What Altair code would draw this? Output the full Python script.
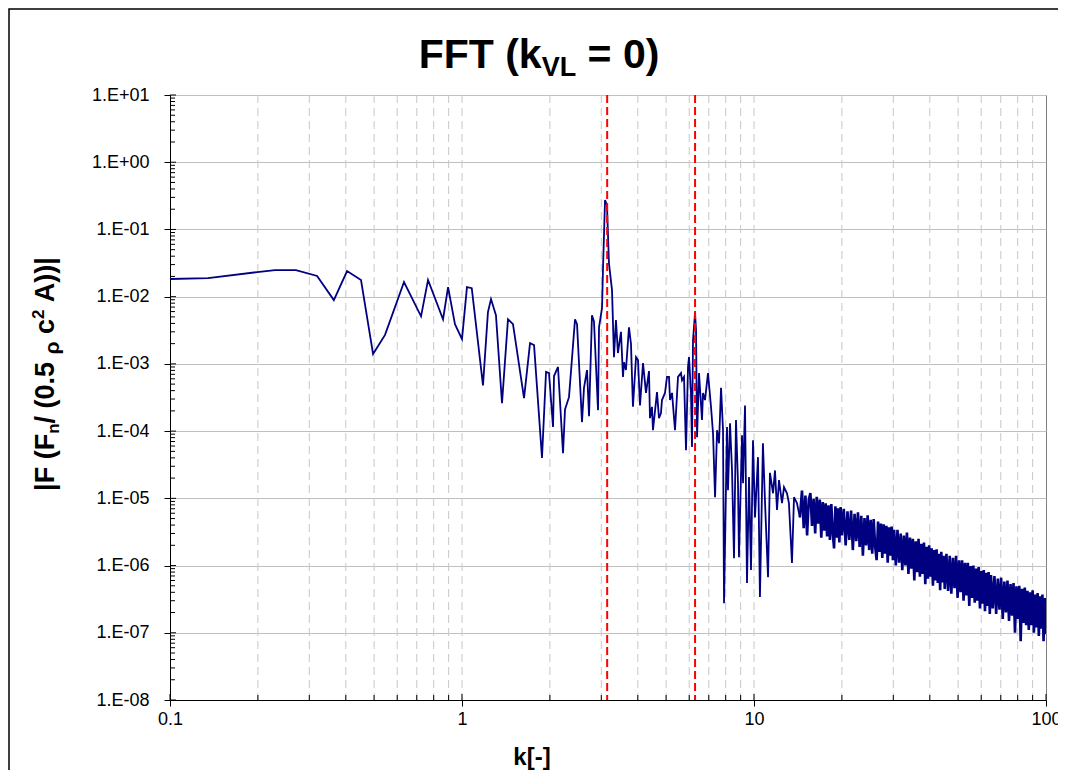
import altair as alt
import pandas as pd

# ---------------- data ----------------
k_a = [0.100, 0.135, 0.199, 0.229, 0.270, 0.319, 0.364, 0.404, 0.451, 0.496, 0.545,
       0.633, 0.724, 0.765, 0.861, 0.896, 0.946, 1.000, 1.040, 1.080]
amp_a = [0.0183, 0.0189, 0.0232, 0.0249, 0.0249, 0.0203, 0.0089, 0.0240, 0.0177, 0.0014,
         0.0027, 0.0165, 0.0051, 0.0177, 0.0046, 0.0139, 0.0039, 0.00234, 0.0139, 0.0134]

k_b = [1.180, 1.227, 1.257, 1.307, 1.371, 1.437, 1.495, 1.631, 1.710, 1.765, 1.879, 1.940,
       1.986, 2.050, 2.066, 2.132, 2.218, 2.253, 2.325, 2.438, 2.477, 2.576, 2.617, 2.680,
       2.723, 2.787, 2.831, 2.923, 2.946, 3.017]
amp_b = [4.8e-4, 5.9e-3, 9.2e-3, 5.3e-3, 2.6e-4, 4.6e-3, 3.9e-3, 3.1e-4, 2.04e-3, 1.9e-3,
         4.0e-5, 7.6e-4, 7.3e-4, 1.15e-4, 6.6e-4, 9.0e-4, 4.7e-5, 2.1e-4, 3.2e-4, 4.6e-3,
         3.9e-3, 1.36e-4, 4.4e-4, 8.1e-4, 1.67e-4, 5.3e-3, 4.3e-3, 2.05e-4, 3.5e-3, 6.8e-3]

k_c = [3.041, 3.089, 3.137, 3.186, 3.264, 3.315, 3.367, 3.420, 3.503, 3.559, 3.587, 3.643,
       3.731, 3.790, 3.850, 3.944, 4.006, 4.070, 4.168, 4.267, 4.369, 4.403, 4.473, 4.508,
       4.654, 4.727, 4.802, 4.840, 4.957, 5.036, 5.116, 5.157, 5.239, 5.364, 5.492, 5.623,
       5.669, 5.759, 5.850, 5.943, 5.990, 6.084]
amp_c = [0.0275, 0.274, 0.231, 0.0316, 0.0125, 1.26e-3, 4.5e-3, 1.45e-3, 3.0e-3, 6.4e-4,
         1.06e-3, 8.1e-4, 3.5e-3, 2.0e-3, 2.3e-4, 1.26e-3, 1.14e-3, 2.4e-4, 1.03e-3, 3.7e-4,
         7.8e-4, 1.56e-4, 2.3e-4, 1.03e-4, 3.8e-4, 1.56e-4, 1.85e-4, 2.9e-4, 3.7e-4, 6.4e-4,
         6.4e-4, 2.9e-4, 3.7e-4, 1.03e-4, 6.4e-4, 7.3e-4, 5.7e-4, 6.4e-4, 5.2e-5, 9.0e-4,
         1.26e-3, 3.7e-4]

k_d = [6.133, 6.182, 6.281, 6.331, 6.382, 6.482, 6.636, 6.689, 6.795, 6.958, 7.124, 7.239,
       7.355, 7.472, 7.590, 7.711, 7.833, 7.895, 8.083, 8.145, 8.277, 8.409, 8.541, 8.676,
       8.814, 8.883, 9.098, 9.170, 9.316, 9.463, 9.614, 9.766, 9.922, 10.08, 10.32, 10.48,
       10.73, 10.91, 11.17, 11.34, 11.62, 11.80, 11.99, 12.18, 12.47, 12.67, 12.97, 13.17,
       13.49, 13.71, 14.03, 14.36]
amp_d = [5.8e-5, 2.26e-3, 5.7e-3, 3.2e-3, 8.1e-5, 7.3e-4, 1.46e-4, 3.7e-4, 2.9e-4, 7.3e-4,
         2.3e-4, 9.3e-5, 1.04e-5, 1.03e-4, 6.6e-5, 4.4e-4, 1.03e-4, 2.75e-7, 1.15e-4, 1.32e-5,
         1.31e-4, 2.6e-5, 1.29e-6, 1.46e-4, 1.68e-5, 1.33e-6, 8.7e-5, 1.68e-5, 2.4e-4, 5.5e-7,
         2.07e-5, 8.6e-7, 7.3e-5, 5.2e-6, 4.1e-5, 3.4e-7, 6.6e-5, 8.5e-6, 6.7e-7, 2.4e-5,
         1.19e-5, 2.6e-5, 6.7e-6, 1.87e-5, 8.5e-6, 1.47e-5, 1.19e-5, 8.5e-6, 1.09e-6, 1.04e-5,
         8.5e-6, 5.2e-6]

k_e = [14.6, 14.8, 15.0, 15.2, 15.4, 15.6, 15.8, 16.0, 16.2, 16.4, 16.6, 16.8, 17.0, 17.2,
       17.4, 17.6, 17.8, 18.0, 18.2, 18.4, 18.6, 18.8, 19.0, 19.2, 19.4, 19.6, 19.8, 20.0]
amp_e = [1.3e-5, 3.6e-6, 1.1e-5, 2.8e-6, 9.5e-6, 1.2e-5, 3.9e-6, 9.8e-6, 3.0e-6, 1.05e-5,
         4.2e-6, 9.6e-6, 2.6e-6, 8.8e-6, 3.3e-6, 8.4e-6, 2.7e-6, 7.9e-6, 2.4e-6, 8.2e-6,
         3.1e-6, 1.8e-6, 7.6e-6, 2.6e-6, 7.1e-6, 2.2e-6, 7.4e-6, 2.8e-6]

k_f = [20.3, 20.6, 20.9, 21.2, 21.5, 21.8, 22.1, 22.4, 22.7, 23.0, 23.3, 23.6, 23.9, 24.2,
       24.5, 24.8, 25.1, 25.4, 25.7, 26.0, 26.3, 26.6, 26.9, 27.2, 27.5, 27.8, 28.1, 28.4,
       28.7, 29.0, 29.3, 29.6, 29.9, 30.2]
amp_f = [7.0e-6, 2.0e-6, 6.4e-6, 2.4e-6, 6.6e-6, 1.7e-6, 5.9e-6, 2.3e-6, 6.2e-6, 1.9e-6,
         5.5e-6, 1.4e-6, 5.1e-6, 2.0e-6, 5.6e-6, 1.7e-6, 4.8e-6, 1.5e-6, 4.9e-6, 1.9e-6,
         1.2e-6, 4.5e-6, 1.6e-6, 4.2e-6, 1.3e-6, 4.1e-6, 1.5e-6, 3.9e-6, 1.1e-6, 3.7e-6,
         1.4e-6, 3.8e-6, 1.2e-6, 3.4e-6]

k_g = [30.6, 31.0, 31.4, 31.8, 32.2, 32.6, 33.0, 33.4, 33.8, 34.2, 34.6, 35.0, 35.4, 35.8,
       36.2, 36.6, 37.0, 37.4, 37.8, 38.2, 38.6, 39.0, 39.4, 39.8, 40.2, 40.6, 41.0, 41.4,
       41.8, 42.2, 42.6, 43.0, 43.4, 43.8, 44.2, 44.6, 45.0]
amp_g = [1.0e-6, 3.4e-6, 1.1e-6, 3.0e-6, 8.5e-7, 2.8e-6, 1.0e-6, 3.1e-6, 7.5e-7, 2.6e-6,
         9.0e-7, 2.5e-6, 6.0e-7, 2.3e-6, 8.0e-7, 2.5e-6, 6.8e-7, 2.1e-6, 7.5e-7, 2.2e-6,
         5.3e-7, 1.9e-6, 6.4e-7, 2.0e-6, 6.8e-7, 1.8e-6, 5.0e-7, 1.7e-6, 6.0e-7, 1.75e-6,
         5.5e-7, 1.5e-6, 4.3e-7, 1.6e-6, 5.6e-7, 1.4e-6, 4.5e-7]

k_h = [45.6, 46.2, 46.8, 47.4, 48.0, 48.6, 49.2, 49.8, 50.4, 51.0, 51.6, 52.2, 52.8, 53.4,
       54.0, 54.6, 55.2, 55.8, 56.4, 57.0, 57.6, 58.2, 58.8, 59.4, 60.0, 60.6, 61.2, 61.8,
       62.4, 63.0, 63.6, 64.2, 64.8]
amp_h = [1.5e-6, 4.2e-7, 1.4e-6, 3.8e-7, 1.3e-6, 4.6e-7, 1.4e-6, 3.3e-7, 1.2e-6, 4.0e-7,
         1.2e-6, 3.0e-7, 1.1e-6, 3.6e-7, 1.1e-6, 2.5e-7, 9.8e-7, 3.3e-7, 1.0e-6, 2.8e-7,
         9.0e-7, 3.0e-7, 9.5e-7, 2.3e-7, 8.3e-7, 2.7e-7, 8.6e-7, 2.1e-7, 7.8e-7, 2.5e-7,
         8.0e-7, 1.9e-7, 7.2e-7]

k_i = [65.7, 66.6, 67.5, 68.4, 69.3, 70.2, 71.1, 72.0, 72.9, 73.8, 74.7, 75.6, 76.5, 77.4,
       78.3, 79.2, 80.1, 81.0, 81.9, 82.8, 83.7, 84.6, 85.5, 86.4, 87.3, 88.2, 89.1, 90.0,
       90.9, 91.8, 92.7, 93.6, 94.5, 95.4, 96.3, 97.2, 98.1, 99.0, 99.9]
amp_i = [2.3e-7, 7.0e-7, 1.9e-7, 6.4e-7, 2.2e-7, 6.6e-7, 1.6e-7, 5.8e-7, 2.0e-7, 6.0e-7,
         1.5e-7, 5.3e-7, 1.8e-7, 5.5e-7, 1.0e-7, 4.9e-7, 1.6e-7, 5.0e-7, 7.5e-8, 4.5e-7,
         1.4e-7, 4.7e-7, 1.3e-7, 4.2e-7, 1.1e-7, 4.0e-7, 1.3e-7, 4.3e-7, 1.0e-7, 3.7e-7,
         1.2e-7, 3.9e-7, 9.0e-8, 3.5e-7, 1.15e-7, 3.7e-7, 7.5e-8, 3.3e-7, 9.5e-8]

marker_k = [3.1416, 6.2832]                       # red dashed reference lines
x_major = [0.1, 1, 10, 100]
x_minor = [0.2, 0.3, 0.4, 0.5, 0.6, 0.7, 0.8, 0.9,
           2, 3, 4, 5, 6, 7, 8, 9,
           20, 30, 40, 50, 60, 70, 80, 90]
y_major = [1e-8, 1e-7, 1e-6, 1e-5, 1e-4, 1e-3, 1e-2, 1e-1, 1e0, 1e1]
y_minor_mult = [2, 3, 4, 5, 6, 7, 8, 9]

# ---------------- tables ----------------
k_sparse = k_a + k_b + k_c + k_d
amp_sparse = amp_a + amp_b + amp_c + amp_d
k_dense = k_d[-1:] + k_e + k_f + k_g + k_h + k_i
amp_dense = amp_d[-1:] + amp_e + amp_f + amp_g + amp_h + amp_i
df_sparse = pd.DataFrame({"k": k_sparse, "amp": amp_sparse, "i": list(range(len(k_sparse)))})
df_dense = pd.DataFrame({"k": k_dense, "amp": amp_dense, "i": list(range(len(k_dense)))})
df_xgrid = pd.DataFrame({"k": x_minor + [1, 10]})
df_xminor = pd.DataFrame({"k": x_minor})
df_xmajor = pd.DataFrame({"k": x_major})
df_yminor = pd.DataFrame({"amp": [m * d for d in y_major[:-1] for m in y_minor_mult]})
df_ymajor = pd.DataFrame({"amp": y_major})
df_mark = pd.DataFrame({"k": marker_k})
one = pd.DataFrame({"z": [0]})

W, H = 876, 605
FONT = "Liberation Sans"
xs = alt.Scale(type="log", domain=[0.1, 100])
ys = alt.Scale(type="log", domain=[1e-8, 10])

x_axis = alt.Axis(values=x_major, grid=False, title=None, tickSize=6, tickColor="black",
                  domainColor="black", labelFont=FONT, labelFontSize=18, labelColor="black",
                  labelPadding=4, labelFlush=False,
                  labelExpr="datum.value < 0.5 ? '0.1' : format(datum.value, 'd')")
y_axis = alt.Axis(values=y_major, grid=True, gridColor="#c0c0c0", gridWidth=1, title=None,
                  tickSize=6, tickColor="black", domainColor="black", labelFont=FONT,
                  labelFontSize=18, labelColor="black", labelPadding=15,
                  labelExpr="'1.E' + (datum.value >= 1 ? '+' : '-') + '0' + "
                            "format(abs(round(log(datum.value) / LN10)), 'd')")
X = lambda: alt.X("k:Q", scale=xs, axis=x_axis)
Y = lambda: alt.Y("amp:Q", scale=ys, axis=y_axis)

# vertical dashed gridlines
xgrid = alt.Chart(df_xgrid).mark_rule(color="#c8c8c8", strokeWidth=1, strokeDash=[8, 5]).encode(
    x=X(), y=alt.value(0), y2=alt.value(H))

line1 = alt.Chart(df_sparse).mark_line(color="#000080", strokeWidth=1.8, clip=True).encode(
    x=X(), y=Y(), order="i:Q")
line2 = alt.Chart(df_dense).mark_line(color="#000080", strokeWidth=2.6, clip=True,
                                      strokeJoin="miter").encode(
    x=X(), y=Y(), order="i:Q")

marks = alt.Chart(df_mark).mark_rule(color="#ff0000", strokeWidth=2, strokeDash=[8, 4]).encode(
    x=X(), y=alt.value(0), y2=alt.value(H))

xmin_t = alt.Chart(df_xminor).mark_rule(color="black").encode(
    x=X(), y=alt.value(H), y2=alt.value(H - 5))
xmaj_t = alt.Chart(df_xmajor).mark_rule(color="black").encode(
    x=X(), y=alt.value(H), y2=alt.value(H - 6))
ymin_t = alt.Chart(df_yminor).mark_rule(color="black").encode(
    y=Y(), x=alt.value(0), x2=alt.value(5))
ymaj_t = alt.Chart(df_ymajor).mark_rule(color="black").encode(
    y=Y(), x=alt.value(0), x2=alt.value(6))

frame = alt.Chart(one).mark_rect(filled=False, stroke="black", strokeWidth=1.5).encode(
    x=alt.value(-161), y=alt.value(-86), x2=alt.value(W + 60), y2=alt.value(H + 120))

# ---------------- texts with sub/superscripts ----------------
AW = {" ": 278, "|": 280, "F": 611, "(": 333, ")": 333, "n": 611, "/": 278, "0": 556,
      ".": 278, "5": 556, "c": 556, "2": 556, "A": 722, "ρ": 611, "k": 556, "V": 667,
      "L": 611, "=": 584, "T": 611, "[": 333, "-": 333, "]": 333}


def tw(s, size):
    return sum(AW[ch] for ch in s) * size / 1000.0


def text_layer(s, x, y, size, angle=0, align="left", baseline="alphabetic"):
    kw = dict(text=s, font=FONT, fontSize=size, fontWeight="bold", color="black",
              align=align, baseline=baseline)
    if angle:
        kw["angle"] = angle
    return alt.Chart(one).mark_text(**kw).encode(x=alt.value(x), y=alt.value(y))


texts = []
# chart title: FFT (k_VL = 0)   (leading blanks are turned into offsets)
title_parts = [("FFT (k", 41, 0), ("VL", 27, 8), (" = 0)", 41, 0)]
tot = sum(tw(s, sz) for s, sz, _ in title_parts)
x0 = (539 - 170) - tot / 2
for s, sz, dy in title_parts:
    lead = tw(s[: len(s) - len(s.lstrip())], sz)
    texts.append(text_layer(s.strip(), x0 + lead, -27 + dy, sz))
    x0 += tw(s, sz)

# y title: |F (F_n / (0.5 rho c^2 A))|
yt_parts = [("|F (F", 27, 0), ("n", 17, 5), ("/ (0.5 ", 27, 0), ("ρ", 21, 5),
            (" c", 27, 0), ("2", 17, -10), (" A))|", 27, 0)]
tot = sum(tw(s, sz) for s, sz, _ in yt_parts)
y0 = (374 - 95) + tot / 2
xb = 54 - 170
for s, sz, dx in yt_parts:
    lead = tw(s[: len(s) - len(s.lstrip())], sz)
    texts.append(text_layer(s.strip(), xb + dx, y0 - lead, sz, angle=270))
    y0 -= tw(s, sz)

# x title
texts.append(text_layer("k[-]", 532 - 170, 765 - 95, 24, align="center"))

chart = alt.layer(frame, xgrid, line1, line2, marks, xmin_t, xmaj_t, ymin_t, ymaj_t,
                  *texts).properties(
    width=W, height=H,
    padding={"left": 162, "top": 87, "right": 12, "bottom": 70},
    autosize=alt.AutoSizeParams(type="none"),
).configure_view(stroke="#808080", strokeWidth=1)

chart.save("out.html", embed_options={"renderer": "svg", "actions": False})
